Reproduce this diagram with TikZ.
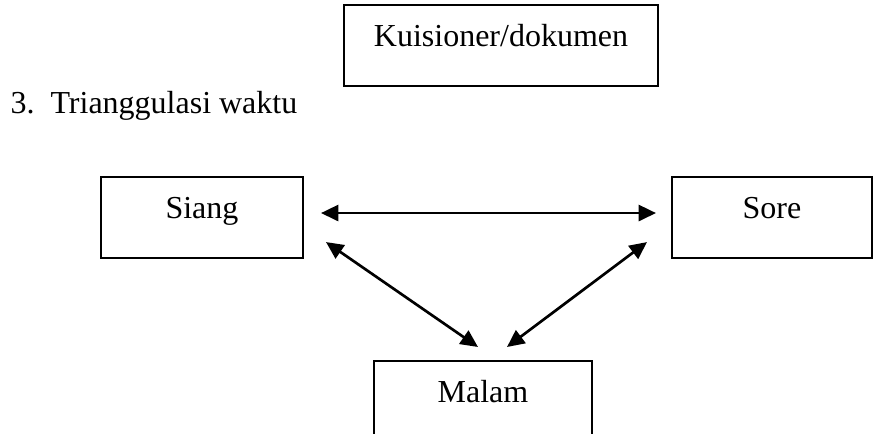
\documentclass[tikz,border=0pt]{standalone}
\usepackage{fontspec}
\setmainfont{Liberation Serif}
\usetikzlibrary{arrows.meta}

\begin{document}
\begin{tikzpicture}[x=.375pt,y=-.375pt,
	kotak/.style={draw, line width=.75pt, inner sep=0pt, text height=15.4pt, text depth=15pt, anchor=north, font=\fontsize{12}{14}\selectfont},
	panah/.style={{Triangle[length=6.5pt,width=6pt]}-{Triangle[length=6.5pt,width=6pt]}, line width=1pt}]
	\path[use as bounding box, clip] (0,0) rectangle (875,434);
	
	\node[kotak, minimum width=117.75pt] (kuis) at (501,4) {Kuisioner/dokumen};
	
	\node[anchor=base west, inner sep=0pt, font=\fontsize{12}{14}\selectfont] (judul) at (10,114) {3.\hspace{6pt}Trianggulasi waktu};
	
	\node[kotak, minimum width=75.75pt] (siang) at (202,176) {Siang};
	\node[kotak, minimum width=75pt] (sore) at (772,176) {Sore};
	\node[kotak, minimum width=81.75pt] (malam) at (483,360) {Malam};
	
	\draw[panah] ([shift={(17,-4.5)}]siang.east) -- ([shift={(-15,-4.5)}]sore.west);
	\draw[panah] ([shift={(22,-17)}]siang.south east) -- ([shift={(-5,-13)}]malam.north);
	\draw[panah] ([shift={(-24,-17)}]sore.south west) -- ([shift={(24,-13)}]malam.north);
\end{tikzpicture}
\end{document}
